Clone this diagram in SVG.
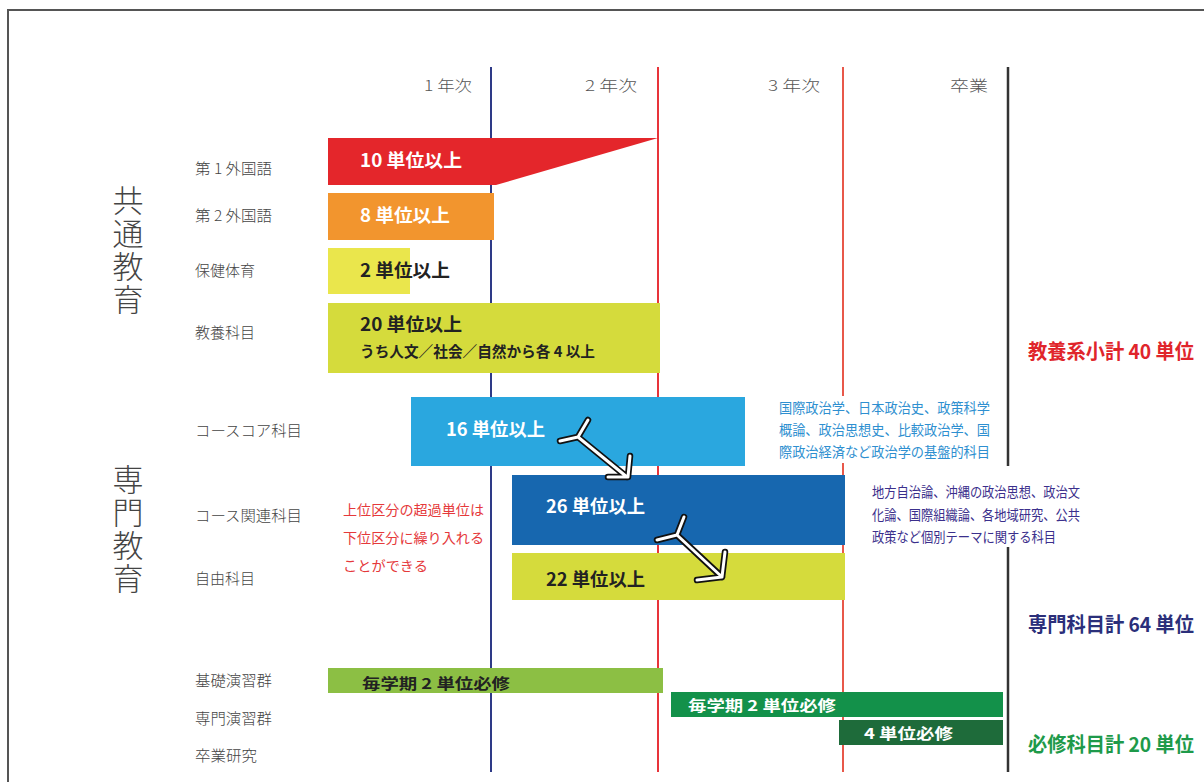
<svg xmlns="http://www.w3.org/2000/svg" width="1204" height="782" viewBox="0 0 1204 782">
<style>
.hdr{font-family:"Noto Sans CJK JP","Noto Sans",sans-serif;font-size:15px;fill:#555;font-weight:300}
.lbl{font-family:"Noto Sans CJK JP","Noto Sans",sans-serif;font-size:15px;fill:#444;font-weight:300}
.big{font-family:"Noto Sans CJK JP","Noto Sans",sans-serif;font-size:31px;fill:#444;font-weight:300;writing-mode:vertical-rl;letter-spacing:2px}
.bt{font-family:"Noto Sans CJK JP","Noto Sans",sans-serif;font-size:18px;font-weight:700}
.bs{font-family:"Noto Sans CJK JP","Noto Sans",sans-serif;font-size:15px;font-weight:700}
.w{fill:#fff}
.d{fill:#222}
.note{font-family:"Liberation Serif","Noto Sans CJK JP",serif;font-size:14px}
.tot{font-family:"Noto Sans CJK JP","Noto Sans",sans-serif;font-size:20px;font-weight:700}
.arrO{fill:none;stroke:#111;stroke-width:6.5;stroke-linejoin:round;stroke-linecap:round}
.arrI{fill:none;stroke:#fff;stroke-width:3;stroke-linejoin:round;stroke-linecap:round}
</style>
<rect x="0" y="0" width="1204" height="782" fill="#fff"/>
<path d="M8 782 V10 H1204" fill="none" stroke="#555" stroke-width="2"/>

<g id="axes">
<line x1="491" y1="67" x2="491" y2="772" stroke="#2E3A87" stroke-width="2"/>
<line x1="658" y1="67" x2="658" y2="772" stroke="#E8343A" stroke-width="2"/>
<line x1="843" y1="67" x2="843" y2="772" stroke="#E8584A" stroke-width="2"/>
<line x1="1008" y1="67" x2="1008" y2="466" stroke="#333" stroke-width="2.5"/>
<line x1="1008" y1="547" x2="1008" y2="772" stroke="#333" stroke-width="2.5"/>
<text class="hdr" x="424" y="91" textLength="48" lengthAdjust="spacingAndGlyphs">1 年次</text>
<text class="hdr" x="585" y="91" textLength="52" lengthAdjust="spacingAndGlyphs">2 年次</text>
<text class="hdr" x="768" y="91" textLength="52" lengthAdjust="spacingAndGlyphs">3 年次</text>
<text class="hdr" x="950" y="91" textLength="38" lengthAdjust="spacingAndGlyphs">卒業</text>
</g>

<g id="group-common">
<text class="big" x="128" y="185">共通教育</text>
</g>
<g id="group-senmon">
<text class="big" x="128" y="464">専門教育</text>
</g>

<g id="foreign1">
<text class="lbl" x="195" y="174" textLength="77" lengthAdjust="spacingAndGlyphs">第 1 外国語</text>
<polygon points="328,138 658,138 496,185 328,185" fill="#E4262B"/>
<text class="bt w" x="360" y="167" textLength="102" lengthAdjust="spacingAndGlyphs">10 単位以上</text>
</g>
<g id="foreign2">
<text class="lbl" x="195" y="221" textLength="77" lengthAdjust="spacingAndGlyphs">第 2 外国語</text>
<rect x="328" y="193" width="166" height="47" fill="#F2952E"/>
<text class="bt w" x="360" y="222" textLength="90" lengthAdjust="spacingAndGlyphs">8 単位以上</text>
</g>
<g id="health">
<text class="lbl" x="195" y="276" textLength="60" lengthAdjust="spacingAndGlyphs">保健体育</text>
<rect x="328" y="248" width="82" height="46" fill="#EAE64C"/>
<text class="bt d" x="360" y="277" textLength="90" lengthAdjust="spacingAndGlyphs">2 単位以上</text>
</g>
<g id="liberal">
<text class="lbl" x="195" y="338" textLength="60" lengthAdjust="spacingAndGlyphs">教養科目</text>
<rect x="328" y="303" width="332" height="70" fill="#D5DB3C"/>
<text class="bt d" x="360" y="331" textLength="102" lengthAdjust="spacingAndGlyphs">20 単位以上</text>
<text class="bs d" x="360" y="357" textLength="235" lengthAdjust="spacingAndGlyphs">うち人文／社会／自然から各 4 以上</text>
</g>

<g id="core">
<text class="lbl" x="195" y="436" textLength="107" lengthAdjust="spacingAndGlyphs">コースコア科目</text>
<rect x="411" y="397" width="334" height="69" fill="#2AA7DF"/>
<text class="bt w" x="446" y="436" textLength="99" lengthAdjust="spacingAndGlyphs">16 単位以上</text>
</g>
<g id="related">
<text class="lbl" x="195" y="521" textLength="107" lengthAdjust="spacingAndGlyphs">コース関連科目</text>
<rect x="512" y="475" width="333" height="70" fill="#1767AF"/>
<text class="bt w" x="546" y="513" textLength="99" lengthAdjust="spacingAndGlyphs">26 単位以上</text>
</g>
<g id="free">
<text class="lbl" x="195" y="584" textLength="60" lengthAdjust="spacingAndGlyphs">自由科目</text>
<rect x="512" y="553" width="333" height="47" fill="#D5DB3C"/>
<text class="bt d" x="546" y="586" textLength="99" lengthAdjust="spacingAndGlyphs">22 単位以上</text>
</g>

<g id="note-transfer">
<text class="note" fill="#E5393B" x="343" y="515" textLength="141" lengthAdjust="spacingAndGlyphs">上位区分の超過単位は</text>
<text class="note" fill="#E5393B" x="343" y="543" textLength="141" lengthAdjust="spacingAndGlyphs">下位区分に繰り入れる</text>
<text class="note" fill="#E5393B" x="343" y="571" textLength="85" lengthAdjust="spacingAndGlyphs">ことができる</text>
</g>
<g id="note-core">
<rect x="774" y="396" width="222" height="67" fill="#fff"/>
<text class="note" fill="#2E8FD0" x="779" y="413" textLength="211" lengthAdjust="spacingAndGlyphs">国際政治学、日本政治史、政策科学</text>
<text class="note" fill="#2E8FD0" x="779" y="435" textLength="211" lengthAdjust="spacingAndGlyphs">概論、政治思想史、比較政治学、国</text>
<text class="note" fill="#2E8FD0" x="779" y="457" textLength="211" lengthAdjust="spacingAndGlyphs">際政治経済など政治学の基盤的科目</text>
</g>
<g id="note-related">
<rect x="866" y="476" width="224" height="70" fill="#fff"/>
<text class="note" fill="#3B2F8C" x="872" y="497" textLength="208" lengthAdjust="spacingAndGlyphs">地方自治論、沖縄の政治思想、政治文</text>
<text class="note" fill="#3B2F8C" x="872" y="520" textLength="208" lengthAdjust="spacingAndGlyphs">化論、国際組織論、各地域研究、公共</text>
<text class="note" fill="#3B2F8C" x="872" y="542" textLength="184" lengthAdjust="spacingAndGlyphs">政策など個別テーマに関する科目</text>
</g>

<g id="seminar-basic">
<text class="lbl" x="195" y="686" textLength="77" lengthAdjust="spacingAndGlyphs">基礎演習群</text>
<rect x="328" y="668" width="335" height="25" fill="#8CBF44"/>
<text class="bs d" x="362" y="689" textLength="148" lengthAdjust="spacingAndGlyphs">毎学期 2 単位必修</text>
</g>
<g id="seminar-major">
<text class="lbl" x="195" y="724" textLength="77" lengthAdjust="spacingAndGlyphs">専門演習群</text>
<rect x="671" y="692" width="332" height="25" fill="#13914A"/>
<text class="bs w" x="688" y="711" textLength="148" lengthAdjust="spacingAndGlyphs">毎学期 2 単位必修</text>
</g>
<g id="thesis">
<text class="lbl" x="195" y="761" textLength="62" lengthAdjust="spacingAndGlyphs">卒業研究</text>
<rect x="839" y="720" width="164" height="25" fill="#1E6B3A"/>
<text class="bs w" x="864" y="739" textLength="89" lengthAdjust="spacingAndGlyphs">4 単位必修</text>
</g>

<g id="totals">
<text class="tot" fill="#E0252B" x="1028" y="359" textLength="166" lengthAdjust="spacingAndGlyphs">教養系小計 40 単位</text>
<text class="tot" fill="#2B2F7A" x="1028" y="632" textLength="166" lengthAdjust="spacingAndGlyphs">専門科目計 64 単位</text>
<text class="tot" fill="#1E9A4A" x="1028" y="752" textLength="166" lengthAdjust="spacingAndGlyphs">必修科目計 20 単位</text>
</g>

<g id="connectors">
<path class="arrO" d="M560 441 L578 437 L588 420 M578 437 L627 477 M630 456 L628 477 L608 477"/>
<path class="arrI" d="M560 441 L578 437 L588 420 M578 437 L627 477 M630 456 L628 477 L608 477"/>
<path class="arrO" d="M657 540 L677 535 L684 517 M677 535 L722 577 M725 552 L722 577 L697 580"/>
<path class="arrI" d="M657 540 L677 535 L684 517 M677 535 L722 577 M725 552 L722 577 L697 580"/>
</g>
</svg>
